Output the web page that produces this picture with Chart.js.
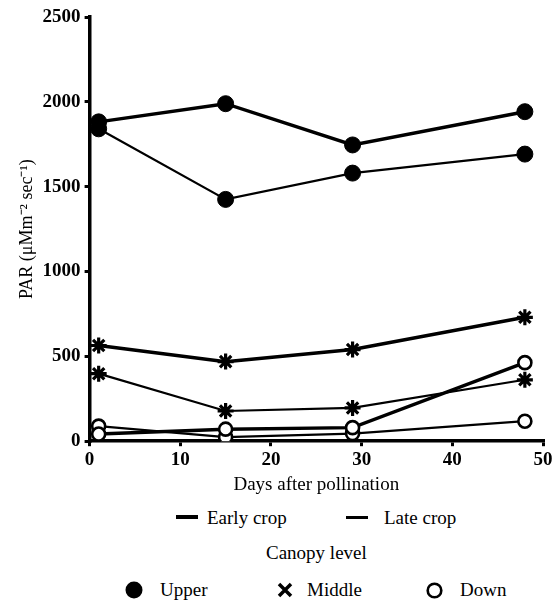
<!DOCTYPE html>
<html>
<head>
<meta charset="utf-8">
<script src="https://cdn.jsdelivr.net/npm/chart.js@4.4.1/dist/chart.umd.min.js"></script>
<style>
  html, body { margin: 0; padding: 0; background: #fff; }
  #wrap { position: relative; width: 558px; height: 602px; font-family: 'Liberation Serif', serif; color: #000; }
  #parChart { position: absolute; left: 0; top: 0; }
  .lg { position: absolute; font-size: 19px; white-space: nowrap; line-height: 1; }
  .ln { position: absolute; height: 0; border-top-style: solid; border-color: #000; }
  .mk { position: absolute; }
</style>
</head>
<body>
<div id="wrap">
  <canvas id="parChart" width="558" height="500"></canvas>
  <div class="ln" style="left:176px;top:515px;width:22px;border-top-width:4px"></div>
  <div class="lg" style="left:207px;top:508px">Early crop</div>
  <div class="ln" style="left:346px;top:516px;width:22px;border-top-width:3px"></div>
  <div class="lg" style="left:384px;top:508px">Late crop</div>
  <div class="lg" style="left:266px;top:543px">Canopy level</div>
  <svg class="mk" style="left:125px;top:581px" width="18" height="18"><circle cx="9" cy="9" r="8.5" fill="#000"/></svg>
  <div class="lg" style="left:160px;top:580px">Upper</div>
  <svg class="mk" style="left:277px;top:582px" width="16" height="16"><path d="M2 2 L14 14 M14 2 L2 14" stroke="#000" stroke-width="3.5"/></svg>
  <div class="lg" style="left:307px;top:580px">Middle</div>
  <svg class="mk" style="left:426px;top:582px" width="17" height="17"><circle cx="8.5" cy="8.5" r="6.8" fill="#fff" stroke="#000" stroke-width="2.6"/></svg>
  <div class="lg" style="left:460px;top:580px">Down</div>
</div>
<script>
const days = [1, 15, 29, 48];

const upperEarly = [1882, 1989, 1746, 1942];
const upperLate = [1841, 1425, 1580, 1692];
const middleEarly = [564, 469, 540, 730];
const middleLate = [398, 178, 196, 362];
const downEarly = [42, 71, 80, 463];
const downLate = [89, 24, 45, 118];

const yTicks = [0, 500, 1000, 1500, 2000, 2500];
const xTicks = [0, 10, 20, 30, 40, 50];

const serif = "'Liberation Serif', 'Times New Roman', serif";

function pts(vals) {
  return vals.map((v, i) => ({ x: days[i], y: v }));
}

function series(label, vals, early, style) {
  const ds = {
    label: label,
    data: pts(vals),
    borderColor: '#000',
    borderWidth: early ? 3.5 : 2.2,
    pointBorderColor: '#000',
    pointRadius: 8,
    pointHoverRadius: 8,
    tension: 0
  };
  if (style === 'upper') {
    ds.pointStyle = 'circle';
    ds.pointBackgroundColor = '#000';
    ds.pointBorderWidth = 1;
  } else if (style === 'middle') {
    ds.pointStyle = 'star';
    ds.pointBackgroundColor = '#000';
    ds.pointBorderWidth = 3.2;
    ds.pointRadius = 8;
  } else {
    ds.pointStyle = 'circle';
    ds.pointBackgroundColor = '#fff';
    ds.pointBorderWidth = 2.6;
    ds.pointRadius = 6.5;
  }
  return ds;
}

const ctx = document.getElementById('parChart').getContext('2d');
Chart.defaults.font.family = serif;
Chart.defaults.color = '#000';

new Chart(ctx, {
  type: 'line',
  data: {
    datasets: [
      series('Upper early', upperEarly, true, 'upper'),
      series('Upper late', upperLate, false, 'upper'),
      series('Middle early', middleEarly, true, 'middle'),
      series('Middle late', middleLate, false, 'middle'),
      series('Down early', downEarly, true, 'down'),
      series('Down late', downLate, false, 'down')
    ]
  },
  options: {
    responsive: false,
    animation: false,
    layout: { padding: { left: 7, right: 15, top: 17, bottom: 0 } },
    plugins: { legend: { display: false }, tooltip: { enabled: false } },
    scales: {
      x: {
        type: 'linear',
        min: 0,
        max: 50,
        afterBuildTicks: axis => { axis.ticks = xTicks.map(v => ({ value: v })); },
        grid: { drawOnChartArea: false, drawTicks: true, tickLength: 5, color: '#000', lineWidth: 3 },
        border: { display: true, color: '#000', width: 3.5 },
        ticks: { font: { family: serif, size: 19, weight: 'bold', lineHeight: 1 }, padding: 4, callback: v => String(v) },
        title: { display: true, text: 'Days after pollination', font: { family: serif, size: 19 }, padding: { top: 0, bottom: 4 } }
      },
      y: {
        min: 0,
        max: 2500,
        afterBuildTicks: axis => { axis.ticks = yTicks.map(v => ({ value: v })); },
        grid: { drawOnChartArea: false, drawTicks: true, tickLength: 5, color: '#000', lineWidth: 3 },
        border: { display: true, color: '#000', width: 3.5 },
        ticks: { font: { family: serif, size: 19, weight: 'bold' }, padding: 4, callback: v => String(v) },
        title: { display: true, text: 'PAR (μMm⁻² sec⁻¹)', font: { family: serif, size: 18 }, padding: { top: 9, bottom: 1 } }
      }
    }
  }
});
</script>
</body>
</html>
